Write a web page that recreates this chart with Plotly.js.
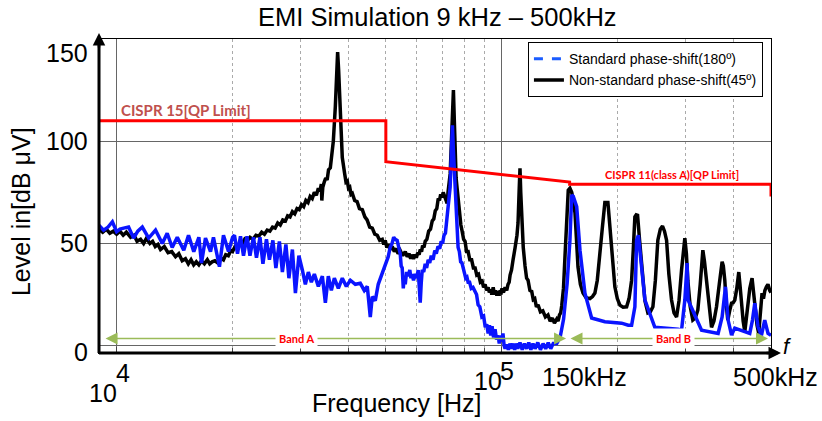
<!DOCTYPE html>
<html>
<head>
<meta charset="utf-8">
<script src="https://cdn.plot.ly/plotly-3.0.1.min.js"></script>
<style>
  html, body { margin: 0; padding: 0; background: #fff; }
  #chart { width: 822px; height: 421px; }
</style>
</head>
<body>
<div id="chart"></div>
<script>
// ---- Data (frequency in kHz, level in dBµV) ----
const freqBlack = [8.98,9.2,9.4,9.6,9.8,10.0,10.2,10.4,10.6,10.87,11.1,11.3,11.54,11.75,11.95,12.2,12.4,12.6,12.8,13.0,13.3,13.6,13.9,14.22,14.5,14.8,15.09,15.35,15.6,15.85,16.1,16.35,16.6,16.9,17.2,17.45,17.7,18.0,18.3,18.6,18.94,19.2,19.5,19.8,
  20.0,20.3,20.6,20.9,21.2,21.5,21.8,22.2,22.6,23.0,23.4,23.8,24.2,24.6,25.0,25.4,25.8,26.2,26.6,27.0,27.43,27.8,28.2,28.6,29.0,29.4,29.8,30.2,30.6,31.0,31.4,31.8,32.2,32.6,33.0,33.4,33.7,34.0,34.1,34.3,34.6,34.9,35.2,35.5,35.88,36.2,36.53,36.97,37.25,37.48,37.7,38.09,38.54,
  39.1,39.4,39.71,40.0,40.3,40.6,40.92,41.5,42.1,42.7,43.44,44.1,44.7,45.4,46.11,46.8,47.5,48.2,48.94,49.4,49.82,50.3,50.7,51.3,51.95,52.6,53.2,53.8,54.49,55.3,56.15,56.8,57.5,58.0,58.44,59.0,59.6,60.0,60.5,61.0,61.41,61.9,62.3,62.8,63.27,63.9,64.6,65.3,65.98,66.6,67.2,67.8,68.4,68.9,69.4,69.9,70.46,71.0,71.5,72.13,72.5,72.8,73.45,74.0,74.45,74.89,75.3,75.66,
  76.1,76.56,77.1,77.7,78.3,78.89,79.6,80.3,81.0,81.77,82.6,83.5,84.4,85.27,86.1,87.0,88.0,88.92,89.7,90.5,91.3,92.17,92.8,93.5,94.2,95.0,95.7,96.4,97.1,97.81,98.4,99.0,99.5,100,101,102,103,103.8,104.5,105.1,106,106.98,107.6,108.3,109.5,110.2,110.9,111.5,112.0,112.7,113.7,114.9,116,117.0,118.3,119.6,120.7,121.8,123,124.2,126,127.8,129.8,131.8,133.5,135.3,137,138.9,140,141.2,142.2,143.1,144.6,145.9,147.3,148.8,150.3,151.9,153.3,154.9,156.5,157.7,160.0,162.5,165.5,169.4,172.0,174.5,177.0,179.8,182.5,185.2,188.6,190.5,192.8,194.6,196.6,199.5,202.6,206.5,210.9,214.0,217.3,219.5,221.6,223.4,225.2,227.8,230.7,233.0,235.3,239.5,243.0,246.8,250.5,254.2,258.0,261.4,264.5,267.8,271.5,275.9,280.0,284.3,288.5,292.9,296.0,298.7,301.5,304.1,308.5,313.3,318.0,322.8,327.5,332.7,336.0,340.1,345.0,350.4,355.5,361.0,367.0,373.3,376.0,379.3,382.8,386.2,390.5,394.9,398.8,402.7,407.5,412.4,415.7,419.1,423.3,427.5,431.3,435.2,440.5,446.5,450.5,455.6,460.0,464.6,469.0,473.9,478.0,482.0,486.5,491.0,496.2,500];
const levelBlack = [57,55.5,57,55,56,54.5,56,54,55.5,53,54,51,52,50,52.5,50,51,48.5,49.5,47,48.5,45.5,46,43.5,45,41.5,42.5,40,42,39.5,41,39.5,41.5,40,42,40,41,41.5,40.5,43,42,44.5,44,46.5,
  46,48.5,48,50.5,50,52,51,53,52,54,53.5,55.5,54.5,56.5,56,58,57.5,60,59,61.5,61,63.5,63,65.5,64.5,67,66.5,69,68,71,70,73,72,75,73.5,77,75.5,79,71,77.5,80,82,81,86,87,92,100,117,135,143.6,135,117,92,
  84,80,80.5,77,77.5,74,74.5,71,70.5,67,66.5,63,61.5,58,57.5,54.5,54,51.5,52,49.5,51.5,48,49.5,47,48.5,46,47.5,45,46.5,44,46,43.5,45,42.5,44.5,42.5,44.5,43,45.5,44.5,47,46,49,48,51,52,56,57,61,62,66,67,72,71,74,72.5,75,73,72.5,69.6,75,78,84,100,112,125,110,90,
  82,77,71,66,59,56,52,51,46,46,42,42,38,38,34.5,35,31,31.5,28.5,30,27,28.5,26,27.5,25,28.5,25,27,24.5,26.5,24.5,27,25,28,26,28.5,27,30,31,34.5,37,42,44,48,54,60,75,86.8,75,60,48,39,33,32,27,26.5,22.5,23,19,20,16.5,17,14,15,12,13.5,11,13,12,15,16,19.5,28,43.5,62,76,77,75,71,65,50,38.6,30,25.7,23.5,23,24,25.7,32,43.5,58,70,70,60,48,37,28.8,23,19.8,18.8,19,23,32,47,63,64,63.8,52,40,30,22,16,16.5,19,32,51.6,57,58.5,56,51.6,35,22.3,16,14,22,37,47,52.6,45,32,19,12.5,13.5,17.4,30,46.7,41,32,18,9,12,19,30,41,39,32,20,12.5,17,20.8,21,22.3,28,36,29,20.8,12,6.8,14,22.3,28,33,25,16,10,6,15,25.7,23,27,28.8,30,27,26];

const freqBlue = [8.98,9.25,9.5,9.75,10.0,10.2,10.43,10.74,11.07,11.35,11.66,12.11,12.62,13.14,13.53,13.94,14.37,14.94,15.37,15.86,16.35,16.61,17.01,17.53,17.84,18.49,18.94,19.52,20.0,20.23,20.6,20.97,21.35,21.8,22.19,22.66,23.07,23.56,23.98,24.49,24.93,25.45,25.91,26.46,26.94,27.51,28.01,28.6,29.12,29.73,30.35,30.9,31.46,32.03,32.61,33.4,34.21,34.83,35.45,36.1,36.75,37.64,38.54,39.48,40.44,41.66,42.92,43.95,44.75,45.56,46.11,46.94,47.78,
  48.85,49.5,50.1,50.72,51.3,51.9,52.4,52.89,53.5,54.0,54.49,54.8,55.14,55.5,55.8,56.15,56.6,57.15,57.7,58.1,58.44,59.0,59.6,60.1,60.67,61.0,61.41,61.8,62.15,62.7,63.27,63.8,64.4,65.0,65.6,66.3,67.0,67.6,68.3,69.0,69.6,70.2,70.8,71.4,72.0,72.6,73.0,73.45,74.0,74.45,74.9,75.3,75.66,76.2,76.6,77.02,77.6,78.2,78.8,79.37,80.0,80.6,81.2,81.77,82.5,83.3,84.2,85.27,86.0,86.8,87.7,88.77,89.7,90.6,91.4,92.17,92.9,93.6,94.37,95.2,96.07,96.9,97.81,98.5,99.2,100,100.7,101.4,102,103.0,104,105,106,107,108,109,110,111.5,113,114.5,116,117.5,119,120.5,122,124,126,128,130,132,134,136,138.9,141.7,144.7,147.8,150.3,151.9,153.3,156.5,159.6,164.4,171.1,185.2,204.7,212.9,217.3,221.6,223.9,226.3,230.7,235.3,249.7,270.3,287.0,292.9,298.7,302.8,304.6,330.1,357.4,364.5,373.3,380.9,386.9,394.9,402.7,436.0,440.4,447.6,453.8,462.7,472.2,481.6,491.2,500];
const levelBlue = [59,56.5,58,60.6,55.7,57,57.5,58,52.6,56,58,52.6,56.5,50,55,48,53,46.7,54,46,53,40.4,52.6,46,53,38.6,54,46,53,54,45,53.5,44,53.5,44,53,43,53,40,52,42,51.5,38,51,36,49.5,33,47,25.7,44,37,30,36,31,35,29,34,21,34,27,33,28,33,29,32,30,30.5,27,29,14,24,22,30,
  35.4,38,41,43.5,48,50,53,52,51.5,47,45,39,38,28,34,30,36,34,37,33,35,32,35,33,37,30,21,31,37,36,40,38,42,40.5,44,42,46.5,45,48.5,47.5,51,50,54,55,61.4,66,70,77.7,95,107.8,95,85,76,62,55,48,46,41,40.5,38,37,33,33.5,31,31,28,28.5,25.7,25,20,19,14,14.5,9,10.5,6,10,5,9.5,4,8,3,5,1,5,2,6,0,-1.5,0.5,-2,1,-1.5,1,-2,1,-1.5,1.5,-2,1,-1.5,1.5,-2,1,-1.5,1.5,-2,1,-1.5,1.5,-1.5,1,1,4,13,30.5,51.6,73.6,73,68,46.7,25.7,13.5,11.7,11,10,10,19,51.6,54,40,22.3,9,8.6,8,7.6,22.3,40.4,22.3,7.6,6.3,6,14,28.8,12.5,5.2,8.6,6,6,12.5,20.8,9.2,5,12.5,6,5,5];

const limitFreq  = [9, 50, 50, 150, 150, 500, 500];
const limitLevel = [110, 110, 90, 80, 79, 79, 73];

const seriesNames = ['Standard phase-shift(180º)', 'Non-standard phase-shift(45º)'];
const yTickVals = [0, 50, 100, 150];
const yTickText = ['0', '50', '100', '150'];
const xMajorTicks = [10, 100];
const xMinorTicks = [20, 30, 40, 50, 60, 70, 80, 90, 200, 300, 400];
const xTickText = ['150kHz', '500kHz'];

const FONT = 'Liberation Sans, Arial, sans-serif';
const CAL = 'Lato, Carlito, Calibri, sans-serif';

const traces = [
  { x: [null], y: [null], type: 'scatter', mode: 'lines', name: seriesNames[0],
    line: { color: '#1a5cff', width: 3, dash: 'dash' }, showlegend: true, hoverinfo: 'skip' },
  { x: freqBlack, y: levelBlack, type: 'scatter', mode: 'lines', name: seriesNames[1],
    line: { color: '#000000', width: 3.5 }, showlegend: true },
  { x: freqBlue, y: levelBlue, type: 'scatter', mode: 'lines', name: seriesNames[0],
    line: { color: '#0a14ff', width: 3.5 }, showlegend: false },
  { x: limitFreq, y: limitLevel, type: 'scatter', mode: 'lines', name: 'Limit',
    line: { color: '#ff0000', width: 3 }, showlegend: false }
];

function lab(text, x, y, size, extra) {
  return Object.assign({ text: text, xref: 'paper', yref: 'paper', x: x, y: y,
    showarrow: false, font: { family: FONT, size: size, color: '#000' } }, extra || {});
}

const annotations = [
  lab(yTickText[3], -0.0134, 0.955, 25, { xanchor: 'right', yanchor: 'middle' }),
  lab(yTickText[2], -0.0134, 0.675, 25, { xanchor: 'right', yanchor: 'middle' }),
  lab(yTickText[1], -0.0134, 0.350, 25, { xanchor: 'right', yanchor: 'middle' }),
  lab(yTickText[0], -0.0134, 0.003, 25, { xanchor: 'right', yanchor: 'middle' }),
  lab('10', 0.006, -0.127, 25, { xanchor: 'center', yanchor: 'middle' }),
  lab('4', 0.0357, -0.0637, 25, { xanchor: 'center', yanchor: 'middle' }),
  lab('10', 0.5789, -0.0892, 25, { xanchor: 'center', yanchor: 'middle' }),
  lab('5', 0.6064, -0.0573, 25, { xanchor: 'center', yanchor: 'middle' }),
  lab(xTickText[0], 0.7232, -0.0764, 25, { xanchor: 'center', yanchor: 'middle' }),
  lab(xTickText[1], 1.006, -0.0764, 25, { xanchor: 'center', yanchor: 'middle' }),
  lab('Frequency [Hz]', 0.4435, -0.159, 25, { xanchor: 'center', yanchor: 'middle' }),
  lab('Level in[dB μV]', -0.116, 0.449, 25, { xanchor: 'center', yanchor: 'middle', textangle: -90 }),
  { xref: 'paper', yref: 'paper', x: 0, y: 1.019, ax: 0, ay: 16, text: '', showarrow: true,
    arrowhead: 2, arrowsize: 1, arrowwidth: 2.5, arrowcolor: '#000' },
  { xref: 'paper', yref: 'paper', x: 1.0149, y: 0, ax: -16, ay: 0, text: '', showarrow: true,
    arrowhead: 2, arrowsize: 1, arrowwidth: 2.5, arrowcolor: '#000' },
  lab('<i>f</i>', 1.024, 0.022, 22, { xanchor: 'center', yanchor: 'middle' }),
  lab('<b>CISPR 15[QP Limit]</b>', 0.1295, 0.774, 15, { xanchor: 'center', yanchor: 'middle',
    font: { family: CAL, size: 15, color: '#c0504d' } }),
  lab('<b>CISPR 11(class A)[QP Limit]</b>', 0.8527, 0.5685, 11, { xanchor: 'center', yanchor: 'middle',
    font: { family: CAL, size: 11, color: '#ff0000' } }),
  { xref: 'paper', yref: 'paper', x: 0.695, y: 0.0462, ax: -462, ay: 0, text: '', showarrow: true,
    arrowside: 'end+start', arrowhead: 2, startarrowhead: 2, arrowsize: 1.6, startarrowsize: 1.6,
    arrowwidth: 1.5, arrowcolor: '#9bbb59' },
  { xref: 'paper', yref: 'paper', x: 0.9955, y: 0.0462, ax: -199, ay: 0, text: '', showarrow: true,
    arrowside: 'end+start', arrowhead: 2, startarrowhead: 2, arrowsize: 1.6, startarrowsize: 1.6,
    arrowwidth: 1.5, arrowcolor: '#9bbb59' },
  lab('<b>Band A</b>', 0.2932, 0.0462, 11, { xanchor: 'center', yanchor: 'middle', bgcolor: '#ffffff',
    borderpad: 3, font: { family: CAL, size: 11, color: '#ff0000' } }),
  lab('<b>Band B</b>', 0.8542, 0.0462, 11, { xanchor: 'center', yanchor: 'middle', bgcolor: '#ffffff',
    borderpad: 3, font: { family: CAL, size: 11, color: '#ff0000' } })
];

const layout = {
  width: 822, height: 421,
  margin: { l: 99, r: 51, t: 39, b: 68, pad: 0 },
  paper_bgcolor: '#ffffff', plot_bgcolor: '#ffffff',
  font: { family: FONT, size: 14, color: '#000' },
  title: { text: 'EMI Simulation 9 kHz – 500kHz', font: { family: FONT, size: 25.5, color: '#000' },
    x: 0.532, xref: 'container', xanchor: 'center', y: 0.96, yref: 'container', yanchor: 'middle' },
  xaxis: {
    type: 'log', range: [Math.log10(9), Math.log10(500)],
    tickvals: xMajorTicks, showticklabels: false,
    showgrid: true, gridcolor: '#666', gridwidth: 1,
    minor: { tickvals: xMinorTicks, showgrid: true, gridcolor: '#aaa', gridwidth: 1, griddash: 'dot',
      ticks: 'inside', ticklen: 5, tickcolor: '#444' },
    ticks: 'inside', ticklen: 6, tickcolor: '#444',
    showline: true, mirror: true, linecolor: '#000', linewidth: 1, zeroline: false, fixedrange: true
  },
  yaxis: {
    range: [-3.6, 150], tickvals: yTickVals, showticklabels: false,
    showgrid: true, gridcolor: '#666', gridwidth: 1,
    showline: true, mirror: true, linecolor: '#000', linewidth: 1, zeroline: false, fixedrange: true
  },
  legend: {
    x: 0.988, y: 0.990, xanchor: 'right', yanchor: 'top',
    bgcolor: '#ffffff', bordercolor: '#000', borderwidth: 1,
    font: { family: FONT, size: 14, color: '#000' }, tracegroupgap: 0, itemwidth: 30
  },
  shapes: [
    { type: 'line', xref: 'x', yref: 'paper', x0: Math.log10(150), x1: Math.log10(150), y0: 0, y1: 1,
      line: { color: '#999', width: 1.5, dash: 'dash' }, layer: 'below' },
    { type: 'line', xref: 'paper', yref: 'paper', x0: 0, x1: 0, y0: 0, y1: 1.0, line: { color: '#000', width: 3 } },
    { type: 'line', xref: 'paper', yref: 'paper', x0: 0, x1: 1.0, y0: 0, y1: 0, line: { color: '#000', width: 3 } }
  ],
  annotations: annotations,
  showlegend: true
};

Plotly.newPlot('chart', traces, layout, { displayModeBar: false, staticPlot: true });
</script>
</body>
</html>
